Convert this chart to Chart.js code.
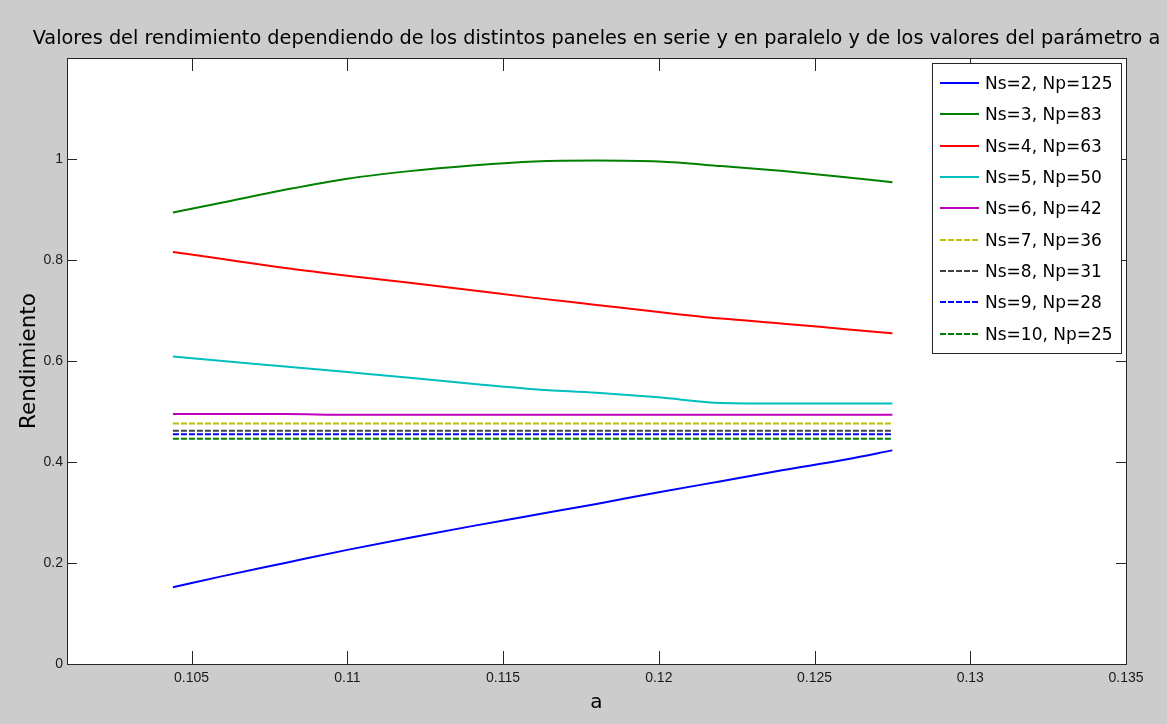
<!DOCTYPE html>
<html>
<head>
<meta charset="utf-8">
<script src="https://cdn.jsdelivr.net/npm/chart.js@4.4.1/dist/chart.umd.min.js"></script>
<style>
  html, body { margin: 0; padding: 0; background: #cccccc; }
  #wrap { width: 1167px; height: 724px; }
</style>
</head>
<body>
<div id="wrap"><canvas id="rendChart" width="1167" height="724"></canvas></div>
<script>
// valores del parámetro a
const aValues = [0.1044, 0.106, 0.108, 0.110, 0.112, 0.114, 0.116, 0.118, 0.120, 0.122, 0.124, 0.126, 0.1275];

// rendimiento para cada combinación serie/paralelo
const ns2 = [0.152, 0.174, 0.200, 0.226, 0.250, 0.273, 0.295, 0.317, 0.340, 0.362, 0.384, 0.405, 0.423];
const ns3 = [0.894, 0.914, 0.939, 0.961, 0.976, 0.987, 0.995, 0.997, 0.995, 0.986, 0.976, 0.964, 0.954];
const ns4 = [0.816, 0.802, 0.784, 0.769, 0.755, 0.740, 0.725, 0.711, 0.697, 0.684, 0.674, 0.663, 0.655];
const ns5 = [0.609, 0.600, 0.589, 0.578, 0.567, 0.555, 0.544, 0.537, 0.528, 0.517, 0.516, 0.516, 0.516];
const ns6 = [0.495, 0.495, 0.495, 0.4935, 0.4935, 0.4935, 0.4935, 0.4935, 0.4935, 0.4935, 0.4935, 0.4935, 0.4935];
const ns7 = [0.476, 0.476, 0.476, 0.476, 0.476, 0.476, 0.476, 0.476, 0.476, 0.476, 0.476, 0.476, 0.476];
const ns8 = [0.462, 0.462, 0.462, 0.462, 0.462, 0.462, 0.462, 0.462, 0.462, 0.462, 0.462, 0.462, 0.462];
const ns9 = [0.455, 0.455, 0.455, 0.455, 0.455, 0.455, 0.455, 0.455, 0.455, 0.455, 0.455, 0.455, 0.455];
const ns10 = [0.446, 0.446, 0.446, 0.446, 0.446, 0.446, 0.446, 0.446, 0.446, 0.446, 0.446, 0.446, 0.446];

const seriesLabels = ['Ns=2, Np=125', 'Ns=3, Np=83', 'Ns=4, Np=63', 'Ns=5, Np=50', 'Ns=6, Np=42',
                      'Ns=7, Np=36', 'Ns=8, Np=31', 'Ns=9, Np=28', 'Ns=10, Np=25'];
const seriesValues = [ns2, ns3, ns4, ns5, ns6, ns7, ns8, ns9, ns10];
const seriesColors = ['#0000ff', '#008000', '#ff0000', '#00bfbf', '#bf00bf', '#bfbf00', '#404040', '#0000ff', '#008000'];
const seriesDashed = [false, false, false, false, false, true, true, true, true];

// ejes
const xTicks = [0.105, 0.11, 0.115, 0.12, 0.125, 0.13, 0.135];
const xTickLabels = ['0.105', '0.11', '0.115', '0.12', '0.125', '0.13', '0.135'];
const yTicks = [0, 0.2, 0.4, 0.6, 0.8, 1];
const yTickLabels = ['0', '0.2', '0.4', '0.6', '0.8', '1'];

const chartTitle = 'Valores del rendimiento dependiendo de los distintos paneles en serie y en paralelo y de los valores del parámetro a';

const DASH = [6, 2];

const datasets = seriesValues.map((vals, i) => ({
  label: seriesLabels[i],
  data: aValues.map((a, j) => ({ x: a, y: vals[j] })),
  borderColor: seriesColors[i],
  backgroundColor: seriesColors[i],
  borderWidth: 2,
  borderDash: seriesDashed[i] ? DASH : [],
  pointRadius: 0,
  cubicInterpolationMode: 'monotone',
  fill: false
}));

// fondo gris, caja, marcas hacia dentro, título y leyenda estilo matlab
const matlabAxes = {
  id: 'matlabAxes',
  beforeDraw(chart) {
    const { ctx, chartArea: ca } = chart;
    ctx.save();
    ctx.fillStyle = '#cccccc';
    ctx.fillRect(0, 0, chart.width, chart.height);
    ctx.fillStyle = '#ffffff';
    ctx.fillRect(ca.left, ca.top, ca.right - ca.left, ca.bottom - ca.top);
    ctx.restore();
  },
  afterDatasetsDraw(chart) {
    const { ctx, chartArea: ca, scales } = chart;
    ctx.save();
    ctx.strokeStyle = '#262626';
    ctx.lineWidth = 1;
    ctx.beginPath();
    xTicks.forEach(v => {
      const px = Math.round(scales.x.getPixelForValue(v)) + 0.5;
      ctx.moveTo(px, ca.bottom); ctx.lineTo(px, ca.bottom - 13);
      ctx.moveTo(px, ca.top); ctx.lineTo(px, ca.top + 13);
    });
    yTicks.forEach(v => {
      const py = Math.round(scales.y.getPixelForValue(v)) + 0.5;
      ctx.moveTo(ca.left, py); ctx.lineTo(ca.left + 10, py);
      ctx.moveTo(ca.right, py); ctx.lineTo(ca.right - 10, py);
    });
    ctx.stroke();
    ctx.strokeRect(Math.round(ca.left) + 0.5, Math.round(ca.top) + 0.5,
                   Math.round(ca.right - ca.left), Math.round(ca.bottom - ca.top));

    // título centrado sobre el área del gráfico
    ctx.fillStyle = '#000000';
    ctx.font = '19.3px "DejaVu Sans"';
    ctx.textAlign = 'center';
    ctx.textBaseline = 'middle';
    ctx.fillText(chartTitle, (ca.left + ca.right) / 2, ca.top - 19);

    // leyenda
    const bw = 189, bh = 290;
    const bx = Math.round(ca.right) - 5 - bw, by = Math.round(ca.top) + 5;
    ctx.fillStyle = '#ffffff';
    ctx.fillRect(bx, by, bw, bh);
    ctx.strokeStyle = '#262626';
    ctx.strokeRect(bx + 0.5, by + 0.5, bw, bh);
    const rowH = 31.33;
    ctx.font = '17px "DejaVu Sans"';
    ctx.textBaseline = 'middle';
    ctx.textAlign = 'left';
    chart.data.datasets.forEach((ds, i) => {
      const cy = Math.round(by + 20 + i * rowH);
      ctx.beginPath();
      ctx.strokeStyle = ds.borderColor;
      ctx.lineWidth = 2;
      ctx.setLineDash(ds.borderDash);
      ctx.moveTo(bx + 8, cy);
      ctx.lineTo(bx + 47, cy);
      ctx.stroke();
      ctx.setLineDash([]);
      ctx.fillStyle = '#000000';
      ctx.fillText(ds.label, bx + 53, cy + 2);
    });
    ctx.restore();
  }
};

new Chart(document.getElementById('rendChart'), {
  type: 'line',
  data: { datasets },
  options: {
    responsive: false,
    animation: false,
    devicePixelRatio: 1,
    layout: { padding: { left: 0, right: 41, top: 58, bottom: 0 } },
    scales: {
      x: {
        type: 'linear',
        min: 0.101,
        max: 0.135,
        afterBuildTicks: scale => { scale.ticks = xTicks.map(v => ({ value: v })); },
        afterFit: scale => { scale.height = 60; },
        grid: { display: false, drawTicks: false },
        border: { display: false },
        ticks: {
          padding: 6,
          maxRotation: 0,
          autoSkip: false,
          color: '#1a1a1a',
          font: { family: '"Liberation Sans", Arial', size: 14 },
          callback: (v, i) => xTickLabels[i]
        },
        title: {
          display: true,
          text: 'a',
          color: '#000000',
          font: { family: '"DejaVu Sans"', size: 20 },
          padding: { top: 0, bottom: 9 }
        }
      },
      y: {
        min: 0,
        max: 1.2,
        afterBuildTicks: scale => { scale.ticks = yTicks.map(v => ({ value: v })); },
        afterFit: scale => { scale.width = 67; },
        grid: { display: false, drawTicks: false },
        border: { display: false },
        ticks: {
          padding: 4,
          color: '#1a1a1a',
          font: { family: '"Liberation Sans", Arial', size: 14 },
          callback: (v, i) => yTickLabels[i]
        },
        title: {
          display: true,
          text: 'Rendimiento',
          color: '#000000',
          font: { family: '"DejaVu Sans"', size: 21.5 },
          padding: { top: 17, bottom: 0 }
        }
      }
    },
    plugins: {
      legend: { display: false },
      tooltip: { enabled: false },
      title: { display: false }
    }
  },
  plugins: [matlabAxes]
});
</script>
</body>
</html>
